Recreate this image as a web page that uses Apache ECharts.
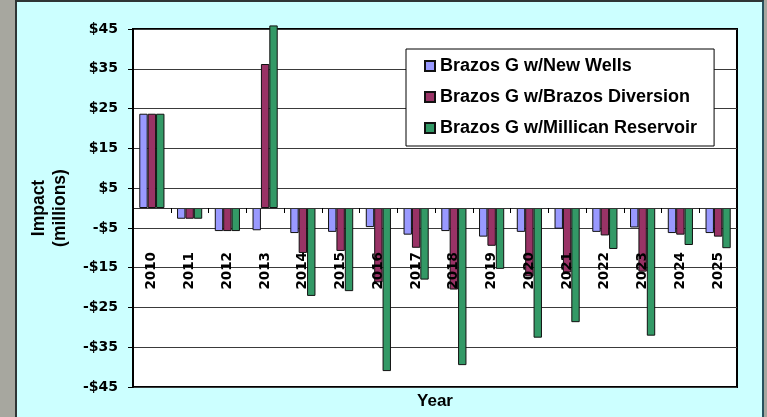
<!DOCTYPE html>
<html>
<head>
<meta charset="utf-8">
<script src="https://cdn.jsdelivr.net/npm/echarts@6/dist/echarts.min.js"></script>
<style>
  html, body { margin: 0; padding: 0; width: 767px; height: 417px; overflow: hidden; background: #a7a79f; }
  #frame { position: absolute; left: 15px; top: 0; width: 749px; height: 420px; box-sizing: border-box;
           background: #ccffff; border-left: 2px solid #2f3535; border-top: 2px solid #2f3535; border-right: 2px solid #27525e; }
  #chart { position: absolute; left: 0; top: 0; width: 767px; height: 417px; }
</style>
</head>
<body>
<div id="frame"></div>
<div id="chart"></div>
<script>
// Annual impact by water supply option, millions of dollars
const years = ['2010', '2011', '2012', '2013', '2014', '2015', '2016', '2017',
               '2018', '2019', '2020', '2021', '2022', '2023', '2024', '2025'];
const newWells        = [23.7, -2.7, -5.8, -5.6, -6.3, -6.0, -4.8, -6.7, -5.8, -7.2, -6.0, -5.2, -6.0, -4.9, -6.3, -6.3];
const brazosDiversion = [23.7, -2.7, -5.8, 36.2, -11.3, -10.8, -18.7, -10.0, -20.5, -9.5, -17.2, -16.2, -6.9, -16.0, -6.7, -7.2];
const millican        = [23.7, -2.7, -5.8, 45.9, -22.1, -20.9, -41.0, -18.0, -39.5, -15.3, -32.6, -28.7, -10.3, -32.1, -9.3, -10.1];

const seriesNames = ['Brazos G w/New Wells', 'Brazos G w/Brazos Diversion', 'Brazos G w/Millican Reservoir'];
const yTickValues = [-45, -35, -25, -15, -5, 5, 15, 25, 35, 45];
const yTickLabels = ['-$45', '-$35', '-$25', '-$15', '-$5', '$5', '$15', '$25', '$35', '$45'];

const colors = ['#9999ff', '#993366', '#339966'];
const labelFont = 'DejaVu Sans';
const titleFont = 'Liberation Sans';

const chart = echarts.init(document.getElementById('chart'), null, { renderer: 'canvas' });

const barSeries = [newWells, brazosDiversion, millican].map((values, i) => ({
  name: seriesNames[i],
  type: 'bar',
  data: values,
  barGap: '0%',
  barCategoryGap: '33.3%',
  clip: false,
  itemStyle: { color: colors[i], borderColor: '#111', borderWidth: 1 },
  emphasis: { disabled: true },
  z: 2
}));

chart.setOption({
  backgroundColor: 'transparent',
  animation: false,
  color: colors,
  grid: {
    left: 133, top: 29, width: 604, height: 358,
    show: true, backgroundColor: '#ffffff', borderColor: '#000000', borderWidth: 2,
    containLabel: false,
    outerBoundsMode: 'none'
  },
  legend: {
    orient: 'vertical',
    left: 406, top: 49,
    padding: [8, 17, 9, 18],
    itemGap: 13,
    itemWidth: 10, itemHeight: 10,
    icon: 'rect',
    backgroundColor: '#ffffff',
    borderColor: '#000000', borderWidth: 1,
    selectedMode: false,
    textStyle: { fontFamily: titleFont, fontWeight: 'bold', fontSize: 18, lineHeight: 18, color: '#000' },
    z: 10
  },
  xAxis: {
    type: 'category',
    data: years,
    z: 5,
    name: 'Year',
    nameLocation: 'middle',
    nameGap: 6,
    nameTextStyle: { fontFamily: titleFont, fontWeight: 'bold', fontSize: 17, color: '#000' },
    axisLine: { onZero: true, lineStyle: { color: '#333', width: 1 } },
    axisTick: { show: true, inside: false, length: 5, lineStyle: { color: '#000' } },
    axisLabel: {
      rotate: 90, margin: -135, interval: 0,
      fontFamily: labelFont, fontWeight: 'bold', fontSize: 13.5, color: '#000'
    },
    splitLine: { show: false }
  },
  yAxis: {
    type: 'value',
    min: -45, max: 45, interval: 10,
    name: 'Impact\n(millions)',
    nameLocation: 'middle',
    nameGap: 62,
    nameTextStyle: { fontFamily: titleFont, fontWeight: 'bold', fontSize: 17.5, lineHeight: 21, color: '#000', align: 'center' },
    axisLine: { show: true, lineStyle: { color: '#000', width: 2 } },
    axisTick: { show: true, inside: false, length: 5, lineStyle: { color: '#000' } },
    axisLabel: {
      margin: 15,
      fontFamily: labelFont, fontWeight: 'bold', fontSize: 14, color: '#000',
      formatter: v => {
        const k = yTickValues.indexOf(Math.round(v));
        return k >= 0 ? yTickLabels[k] : '';
      }
    },
    splitLine: { show: true, lineStyle: { color: '#3a3a3a', width: 1 } }
  },
  series: barSeries
});
</script>
</body>
</html>
